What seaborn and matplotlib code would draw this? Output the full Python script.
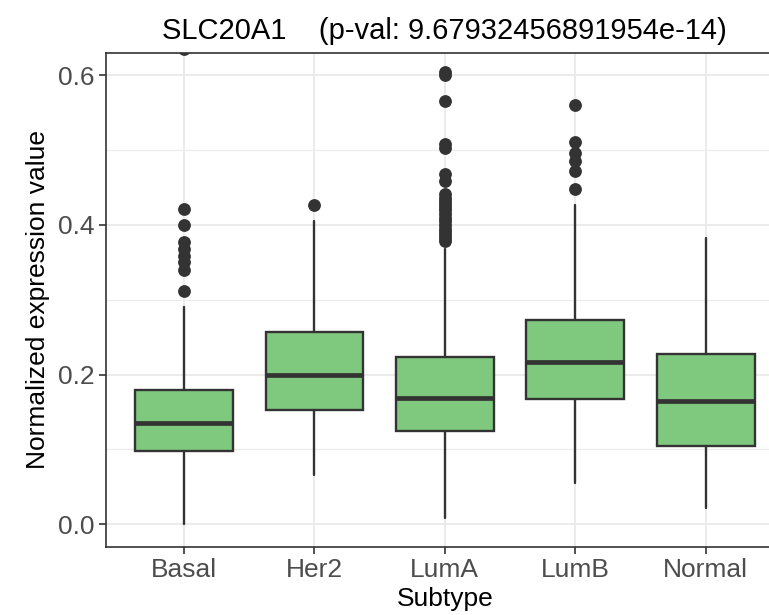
import numpy as np
import matplotlib.pyplot as plt
import seaborn as sns

# values (boxplot summary per subtype)
subtypes = ['Basal', 'Her2', 'LumA', 'LumB', 'Normal']
whisk_lo = [0.000, 0.066, 0.009, 0.055, 0.022]
q1 = [0.098, 0.153, 0.125, 0.168, 0.104]
medians = [0.135, 0.200, 0.169, 0.217, 0.165]
q3 = [0.180, 0.2565, 0.2235, 0.2725, 0.227]
whisk_hi = [0.291, 0.405, 0.3675, 0.427, 0.383]
outliers = [
    [0.312, 0.340, 0.350, 0.359, 0.368, 0.377, 0.400, 0.422, 0.635],
    [0.427],
    [0.378, 0.382, 0.386, 0.390, 0.395, 0.400, 0.405, 0.410, 0.415, 0.420,
     0.424, 0.428, 0.432, 0.436, 0.441, 0.459, 0.468, 0.503, 0.508, 0.566,
     0.601, 0.605],
    [0.448, 0.472, 0.486, 0.4965, 0.511, 0.561],
    [],
]

title = 'SLC20A1    (p-val: 9.67932456891954e-14)'

sns.set_theme(style='whitegrid')
plt.rcParams['font.family'] = ['Liberation Sans', 'DejaVu Sans']

fig = plt.figure(figsize=(7.69, 6.15), dpi=100)
# panel runs past the right edge of the picture, like the original
ax = fig.add_axes([0.1375, 0.111, 0.882, 0.803])

stats = []
for i, name in enumerate(subtypes):
    stats.append({'label': name, 'whislo': whisk_lo[i], 'q1': q1[i],
                  'med': medians[i], 'q3': q3[i], 'whishi': whisk_hi[i],
                  'fliers': outliers[i]})

dark = '#333333'
ax.bxp(stats, positions=range(len(subtypes)), widths=0.75, patch_artist=True,
       showcaps=False,
       boxprops=dict(facecolor='#7FC97F', edgecolor=dark, linewidth=1.7),
       medianprops=dict(color=dark, linewidth=3.4),
       whiskerprops=dict(color=dark, linewidth=1.7),
       flierprops=dict(marker='o', markerfacecolor=dark, markeredgecolor=dark,
                       markersize=8.2))

ax.set_xlim(-0.6, 4.6)
ax.set_ylim(-0.03, 0.63)
ax.set_yticks([0.0, 0.2, 0.4, 0.6])
ax.set_yticklabels(['0.0', '0.2', '0.4', '0.6'])
ax.set_yticks([0.1, 0.3, 0.5], minor=True)
ax.set_xticks(range(len(subtypes)))
ax.set_xticklabels(subtypes)

# no built-in frame; draw the left, top and bottom border by hand
ax.set_frame_on(False)
for xs, ys in [([0, 0], [0, 1]), ([0, 1], [1, 1]), ([0, 1], [0, 0])]:
    ax.plot(xs, ys, transform=ax.transAxes, color=dark, lw=1.2,
            clip_on=False, solid_capstyle='projecting', zorder=5)

ax.grid(which='major', color='#EBEBEB', linewidth=1.4)
ax.grid(which='minor', axis='y', color='#EBEBEB', linewidth=0.8)
ax.set_axisbelow(True)

ax.tick_params(axis='both', which='major', length=5, width=1.2, color=dark,
               labelsize=19, labelcolor='#4D4D4D', pad=3, left=True, bottom=True,
               right=False, top=False)
ax.tick_params(axis='y', which='minor', length=0)

ax.set_xlabel('Subtype', fontsize=19, color='black', labelpad=4)
ax.set_ylabel('Normalized expression value', fontsize=19, color='black', labelpad=6)
ax.set_title(title, fontsize=21, color='black', pad=10)

fig.savefig('out.png', dpi=100, facecolor='white')
